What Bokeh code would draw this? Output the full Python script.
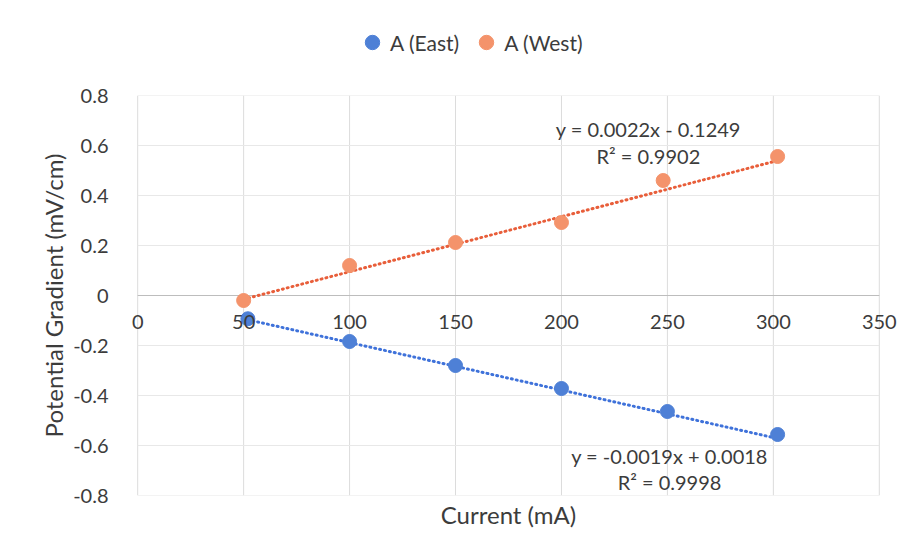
from bokeh.plotting import figure
from bokeh.layouts import column
from bokeh.models import Legend, LegendItem, FixedTicker, Range1d, LinearAxis, Title
from bokeh.core.properties import value
from bokeh.embed import file_html
from bokeh.resources import INLINE

# ---- data ----
east_x = [52, 100, 150, 200, 250, 302]
east_y = [-0.093, -0.184, -0.280, -0.372, -0.464, -0.556]
west_x = [50, 100, 150, 200, 248, 302]
west_y = [-0.020, 0.120, 0.212, 0.292, 0.460, 0.556]

east_fit = (-0.0019, 0.0018)
west_fit = (0.0022, -0.1249)
east_eq = ["y = -0.0019x + 0.0018", "R² = 0.9998"]
west_eq = ["y = 0.0022x - 0.1249", "R² = 0.9902"]
series_names = ["A (East)", "A (West)"]

x_ticks = [0, 50, 100, 150, 200, 250, 300, 350]
y_ticks = [-0.8, -0.6, -0.4, -0.2, 0, 0.2, 0.4, 0.6, 0.8]
y_tick_labels = ["-0.8", "-0.6", "-0.4", "-0.2", "0", "0.2", "0.4", "0.6", "0.8"]

FONT = "Lato"
TXT = "#3c3c3c"
BLUE = "#4E80D6"
BLUE_L = "#3F72DA"
ORANGE = "#F4936B"
ORANGE_L = "#E85E3A"
GRID = "#dcdcdc"
ZERO = "#bdbdbd"

TOP_H = 83
PAD = 10  # extra data units left/right so the end tick labels are not clipped

# ---------- legend strip (its frame is aligned with the chart's frame by the column) ----------
lg = figure(width=909, height=TOP_H, output_backend="svg", toolbar_location=None,
            x_range=Range1d(0, 1), y_range=Range1d(0, 1),
            x_axis_location=None, y_axis_location=None, min_border=0)
lg.outline_line_color = None
lg.grid.visible = False
# proxies for the legend swatches (their data lie outside this strip's ranges)
le = lg.scatter(east_x[:1], east_y[:1], size=14, fill_color=BLUE, line_color=BLUE)
lw = lg.scatter(west_x[:1], west_y[:1], size=14, fill_color=ORANGE, line_color=ORANGE)
legend = Legend(items=[LegendItem(label=series_names[0], renderers=[le]),
                       LegendItem(label=series_names[1], renderers=[lw])],
                orientation="horizontal", location=(238, 23),
                label_text_font=FONT, label_text_font_size="21px", label_text_color=TXT,
                glyph_width=36, glyph_height=36, spacing=9, label_standoff=-6,
                border_line_color=None, background_fill_alpha=0, margin=0, padding=0)
lg.add_layout(legend)

# ---------- main chart ----------
p = figure(width=909, height=558 - TOP_H, output_backend="svg", toolbar_location=None,
           x_range=Range1d(x_ticks[0] - PAD, x_ticks[-1] + PAD),
           y_range=Range1d(y_ticks[0], y_ticks[-1]),
           x_axis_location=None,
           min_border_left=116, min_border_right=9, min_border_top=12, min_border_bottom=63)
p.outline_line_color = None
p.background_fill_color = "white"
p.grid.visible = False

# gridlines limited to the plot area (0..350, -0.8..0.8)
nx, ny = len(x_ticks), len(y_ticks)
p.segment(x0=x_ticks, y0=[y_ticks[0]] * nx, x1=x_ticks, y1=[y_ticks[-1]] * nx,
          line_color=GRID, line_width=1)
p.segment(x0=[x_ticks[0]] * ny, y0=y_ticks, x1=[x_ticks[-1]] * ny, y1=y_ticks,
          line_color=[ZERO if t == 0 else "#e8e8e8" for t in y_ticks], line_width=1.2)

p.yaxis.ticker = FixedTicker(ticks=y_ticks)
p.yaxis.major_label_overrides = {t: s for t, s in zip(y_ticks, y_tick_labels)}
p.yaxis.axis_line_color = None
p.yaxis.major_tick_line_color = None
p.yaxis.minor_tick_line_color = None
p.yaxis.major_label_standoff = 2
p.yaxis.major_label_text_font = FONT
p.yaxis.major_label_text_font_size = "20px"
p.yaxis.major_label_text_color = TXT
p.yaxis.axis_label = "Potential Gradient (mV/cm)"
p.yaxis.axis_label_text_font = FONT
p.yaxis.axis_label_text_font_size = "24px"
p.yaxis.axis_label_text_font_style = "normal"
p.yaxis.axis_label_text_color = TXT
p.yaxis.axis_label_standoff = 2

# x axis crossing at y = 0 (Excel style)
xax = LinearAxis(fixed_location=0, ticker=FixedTicker(ticks=x_ticks),
                 axis_line_color=None,
                 major_tick_line_color=None, minor_tick_line_color=None,
                 major_label_standoff=13, major_label_text_font=FONT,
                 major_label_text_font_size="20px", major_label_text_color=TXT)
p.add_layout(xax, "below")
p.add_layout(Title(text="Current (mA)", align="center", text_font=FONT, text_font_size="24px",
                   text_font_style="normal", text_color=TXT, standoff=5), "below")

ex = [min(east_x), max(east_x)]
wx = [min(west_x), max(west_x)]
p.line(ex, [east_fit[0] * v + east_fit[1] for v in ex], line_color=BLUE_L, line_width=3,
       line_dash="1 4", line_cap="round")
p.line(wx, [west_fit[0] * v + west_fit[1] for v in wx], line_color=ORANGE_L, line_width=3,
       line_dash="1 4", line_cap="round")

p.scatter(east_x, east_y, size=14, fill_color=BLUE, line_color=BLUE)
p.scatter(west_x, west_y, size=14, fill_color=ORANGE, line_color=ORANGE)

p.text(x=[241, 241], y=[0.668, 0.56], text=west_eq, text_align="center", text_baseline="middle",
       text_font=value(FONT), text_font_size="20px", text_color=TXT)
p.text(x=[251, 251], y=[-0.64, -0.744], text=east_eq, text_align="center", text_baseline="middle",
       text_font=value(FONT), text_font_size="20px", text_color=TXT)

open("out.html", "w").write(file_html(column(lg, p, spacing=0), INLINE))
